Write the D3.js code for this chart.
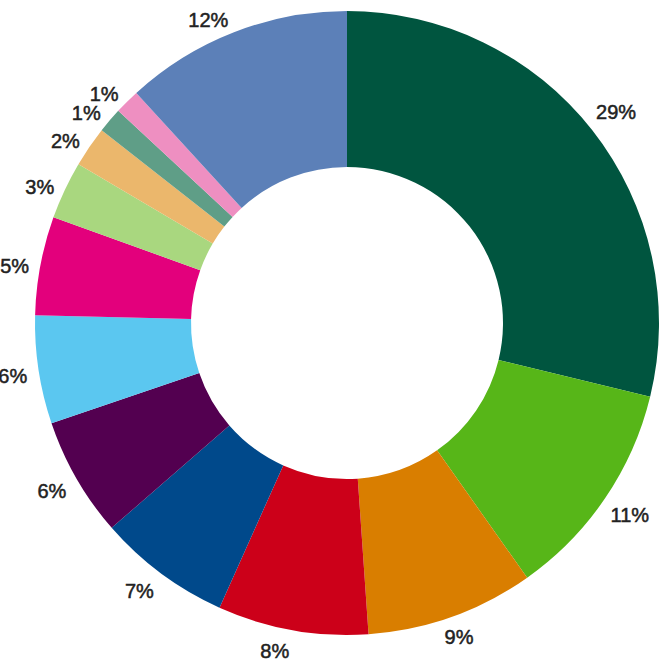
<!DOCTYPE html>
<html>
<head>
<meta charset="utf-8">
<script src="https://cdnjs.cloudflare.com/ajax/libs/d3/7.8.5/d3.min.js"></script>
<style>
  body { margin: 0; background: #fff; }
  svg { display: block; }
</style>
</head>
<body>
<div id="chart"></div>
<script>
// slice shares, clockwise from 12 o'clock
var categories = ["A", "B", "C", "D", "E", "F", "G", "H", "I", "J", "K", "L", "M"];
var values = [28.8, 11.4, 8.7, 7.8, 6.9, 6.2, 5.6, 5.1, 3.0, 2.1, 1.3, 1.3, 11.8];
var colors = ["#00553f", "#57b618", "#d97e00", "#cc0019", "#00498b", "#530050",
              "#5bc7f0", "#e3007c", "#a9d77f", "#ebb76c", "#5f9e87", "#ee8fc1", "#5c80b8"];

var width = 668, height = 670;
var cx = 347, cy = 323;
var outerR = 312, innerR = 156;
var fontSize = 20;

var svg = d3.select("#chart")
    .append("svg")
    .attr("width", width)
    .attr("height", height);

var g = svg.append("g")
    .attr("transform", "translate(" + cx + "," + cy + ")");

var data = categories.map(function(c, i) { return { name: c, value: values[i], color: colors[i] }; });
var total = d3.sum(values);
var fmt = d3.format(".0%");

var pie = d3.pie().sort(null).value(function(d) { return d.value; });
var arc = d3.arc().innerRadius(innerR).outerRadius(outerR);

var arcs = pie(data);

g.selectAll("path.slice")
  .data(arcs)
  .enter()
  .append("path")
  .attr("class", "slice")
  .attr("d", arc)
  .attr("fill", function(d) { return d.data.color; });

// labels just outside the ring
var labels = g.selectAll("text.lbl")
  .data(arcs)
  .enter()
  .append("text")
  .attr("class", "lbl")
  .attr("text-anchor", "middle")
  .attr("dominant-baseline", "central")
  .style("font-family", "'Liberation Sans', Arial, sans-serif")
  .style("font-size", fontSize + "px")
  .style("fill", "#222")
  .style("stroke", "#222")
  .style("stroke-width", "0.5px")
  .text(function(d) { return fmt(d.data.value / total); });

labels.each(function(d) {
  var a = (d.startAngle + d.endAngle) / 2;
  var w = this.getComputedTextLength();
  var s = Math.sin(a), c = -Math.cos(a);
  var hh = fontSize * 0.36;
  var x, y;
  if (s < 0) {
    // left half: text ends near the anchor point
    var rl = outerR + 10;
    x = rl * s - 1.1 * w / 2;
    y = rl * c + c * hh + 4;
  } else {
    // right half: pushed out radially by half its size
    var r = outerR + 10 + Math.abs(s) * w / 2 + Math.abs(c) * hh;
    x = r * s;
    y = r * c;
  }
  d3.select(this).attr("x", x).attr("y", y);
});
</script>
</body>
</html>
